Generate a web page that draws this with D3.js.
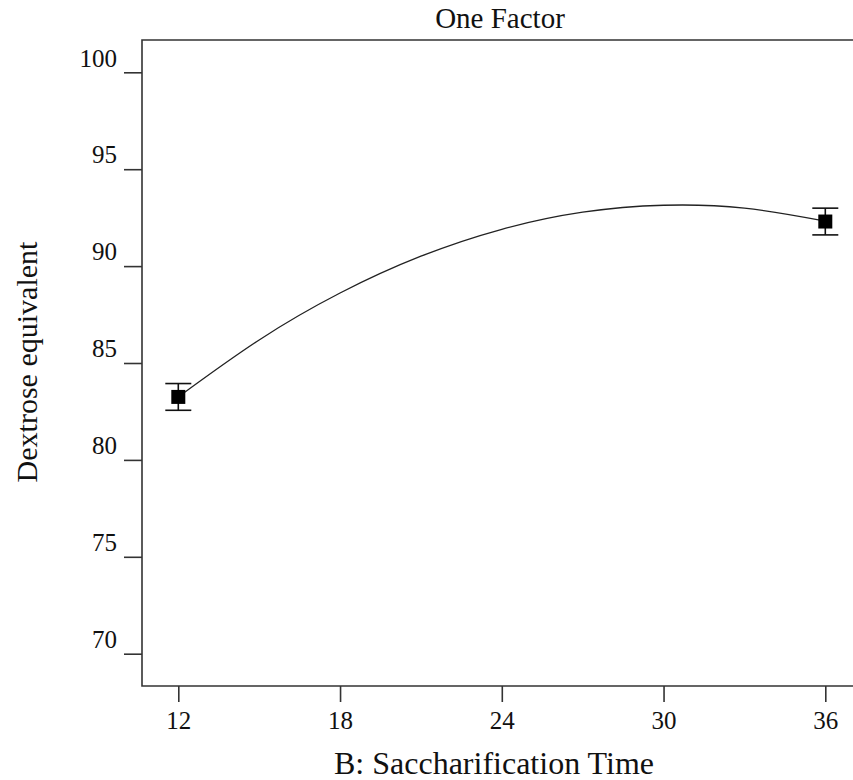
<!DOCTYPE html>
<html>
<head>
<meta charset="utf-8">
<script src="https://cdn.jsdelivr.net/npm/d3@7"></script>
<style>
  html, body { margin: 0; padding: 0; background: #fff; }
</style>
</head>
<body>
<svg id="chart" width="853" height="780"></svg>
<script>
// Design points: saccharification time (h) and mean dextrose equivalent
const times = [12, 36];
const deMeans = [83.25, 92.3];
const deErr = [0.69, 0.69];

// Fitted response curve read along the factor range
const curveTimes = [12, 15, 18, 21, 24, 27, 30, 33, 36];
const curveDE = [83.25, 86.19, 88.61, 90.51, 91.9, 92.78, 93.14, 92.99, 92.32];

const xTicks = [12, 18, 24, 30, 36];
const yTicks = [70, 75, 80, 85, 90, 95, 100];

const serif = '"Liberation Serif"';
const textColor = "#111";

const svg = d3.select("#chart");

const frame = { left: 142, top: 40, right: 853, bottom: 686 };

const x = d3.scaleLinear().domain([12, 36]).range([178.3, 825.3]);
const y = d3.scaleLinear().domain([70, 100]).range([653.7, 72.3]);

const axisColor = "#333";

// Frame: left, top and bottom edges
svg.append("path")
  .attr("d", `M${frame.right},${frame.top}H${frame.left}V${frame.bottom}H${frame.right}`)
  .attr("fill", "none")
  .attr("stroke", axisColor)
  .attr("stroke-width", 1.6);

// Y axis ticks and labels
const yAxis = d3.axisLeft(y).tickValues(yTicks).tickSize(18).tickFormat(d3.format("d"));
const gy = svg.append("g").attr("transform", `translate(${frame.left},0)`).call(yAxis);
gy.select(".domain").remove();
gy.selectAll(".tick line").attr("stroke", axisColor).attr("stroke-width", 1.6);
gy.selectAll(".tick text")
  .attr("x", -25)
  .attr("dy", "-0.25em")
  .style("font-family", serif)
  .style("font-size", "25px")
  .attr("fill", textColor);

// X axis ticks and labels
const xAxis = d3.axisBottom(x).tickValues(xTicks).tickSize(16).tickFormat(d3.format("d"));
const gx = svg.append("g").attr("transform", `translate(0,${frame.bottom})`).call(xAxis);
gx.select(".domain").remove();
gx.selectAll(".tick line").attr("stroke", axisColor).attr("stroke-width", 1.6);
gx.selectAll(".tick text")
  .attr("y", 43)
  .attr("dy", 0)
  .style("font-family", serif)
  .style("font-size", "25px")
  .attr("fill", textColor);

// Fitted curve
const line = d3.line()
  .x((d, i) => x(curveTimes[i]))
  .y(d => y(d))
  .curve(d3.curveNatural);
svg.append("path")
  .datum(curveDE)
  .attr("d", line)
  .attr("fill", "none")
  .attr("stroke", "#222")
  .attr("stroke-width", 1.3);

// Error bars and point markers
const pts = times.map((t, i) => ({ t, m: deMeans[i], e: deErr[i] }));
const capHalf = 13;
const g = svg.append("g").selectAll("g").data(pts).join("g");
g.append("line")
  .attr("x1", d => x(d.t)).attr("x2", d => x(d.t))
  .attr("y1", d => y(d.m + d.e)).attr("y2", d => y(d.m - d.e))
  .attr("stroke", "#111").attr("stroke-width", 1.6);
g.append("line")
  .attr("x1", d => x(d.t) - capHalf).attr("x2", d => x(d.t) + capHalf)
  .attr("y1", d => y(d.m + d.e)).attr("y2", d => y(d.m + d.e))
  .attr("stroke", "#111").attr("stroke-width", 1.6);
g.append("line")
  .attr("x1", d => x(d.t) - capHalf).attr("x2", d => x(d.t) + capHalf)
  .attr("y1", d => y(d.m - d.e)).attr("y2", d => y(d.m - d.e))
  .attr("stroke", "#111").attr("stroke-width", 1.6);
g.append("rect")
  .attr("x", d => x(d.t) - 7).attr("y", d => y(d.m) - 7)
  .attr("width", 14).attr("height", 14)
  .attr("fill", "#000");

// Titles
svg.append("text")
  .attr("x", 500).attr("y", 28)
  .attr("text-anchor", "middle")
  .attr("fill", textColor)
  .style("font-family", serif)
  .style("font-size", "29px")
  .text("One Factor");

svg.append("text")
  .attr("x", 494).attr("y", 774)
  .attr("text-anchor", "middle")
  .attr("fill", textColor)
  .style("font-family", serif)
  .style("font-size", "32px")
  .text("B: Saccharification Time");

svg.append("text")
  .attr("transform", "translate(37,362) rotate(-90)")
  .attr("text-anchor", "middle")
  .attr("fill", textColor)
  .style("font-family", serif)
  .style("font-size", "30px")
  .text("Dextrose equivalent");
</script>
</body>
</html>
